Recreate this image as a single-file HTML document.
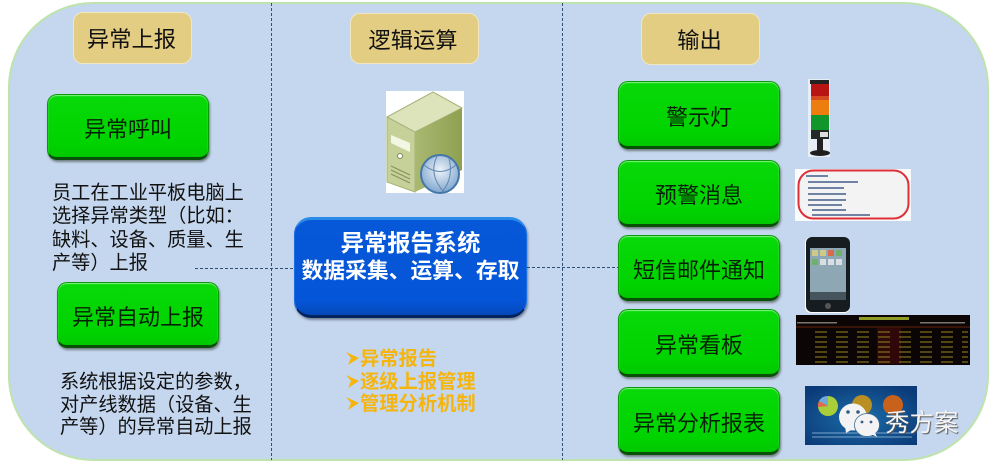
<!DOCTYPE html>
<html><head><meta charset="utf-8">
<style>
html,body{margin:0;padding:0;background:#fff}
#c{position:relative;width:989px;height:465px;overflow:hidden;background:#fff;font-family:"Liberation Sans","Noto Sans CJK SC","WenQuanYi Zen Hei",sans-serif}
#c div{position:absolute;box-sizing:border-box}
.bg{left:8px;top:2px;width:981px;height:459px;background:#c5d7ef;border:2px solid #bfe3ad;border-radius:85px}
.h{background:#e3cd83;border:1px solid #f1e6c0;border-radius:10px;text-align:center;font-size:22.3px;color:#111;display:flex;align-items:center;justify-content:center}
.g{background:linear-gradient(#08d808,#00d400 75%,#00c800);border-radius:10px;border:1px solid #0a9a0a;border-bottom:3px solid #085008;box-shadow:1px 2px 2px rgba(60,70,60,.6),inset 0 1px 1px rgba(190,255,190,.7);color:#062206;font-size:22px;display:flex;align-items:center;justify-content:center;white-space:nowrap;padding-top:3px}
.t{font-size:19.2px;line-height:23.2px;color:#111;white-space:nowrap}
.o{color:#f5b50e;font-weight:bold;font-size:19.3px;line-height:22.5px;white-space:nowrap;left:360px}
svg{position:absolute;left:0;top:0}
</style></head><body><div id="c">
<div class="bg"></div>
<svg width="989" height="465">
<defs>
<radialGradient id="rg" cx="50%" cy="55%" r="65%"><stop offset="0" stop-color="#1b6da8"/><stop offset="1" stop-color="#0b3a78"/></radialGradient>
<linearGradient id="sd" x1="0" y1="0" x2="1" y2="0"><stop offset="0" stop-color="#aab872"/><stop offset="1" stop-color="#8fa050"/></linearGradient>
<radialGradient id="gl" cx="50%" cy="40%" r="60%"><stop offset="0" stop-color="#eef3f8"/><stop offset="1" stop-color="#7fa6cf"/></radialGradient>
</defs>
<g stroke="#2f4f7a" stroke-width="1" stroke-dasharray="3 2" fill="none">
<line x1="271.5" y1="3" x2="271.5" y2="460"/>
<line x1="562.5" y1="3" x2="562.5" y2="460"/>
<line x1="195" y1="268.5" x2="295" y2="268.5"/>
<line x1="527" y1="267.5" x2="618" y2="267.5"/>
</g>
<!-- server -->
<rect x="386" y="91" width="78" height="102" fill="#fff"/>
<polygon points="387,117 433,92 462,108 415,132" fill="#dde4bc" stroke="#a8b47a"/>
<polygon points="387,117 415,132 415,192 387,182" fill="#c6d19a" stroke="#a8b47a"/>
<polygon points="415,132 462,108 462,170 415,192" fill="url(#sd)"/>
<polygon points="391,135 410,143 410,152 391,143" fill="#f4f6e4"/>
<circle cx="400" cy="156" r="2.5" fill="#fff" stroke="#7d8a55"/>
<g stroke="#83905a"><line x1="391" y1="166" x2="410" y2="175"/><line x1="391" y1="170" x2="410" y2="179"/><line x1="391" y1="174" x2="410" y2="183"/></g>
<circle cx="440" cy="174" r="19" fill="url(#gl)" stroke="#4477a8" stroke-width="2"/>
<path d="M424,165 Q440,178 456,165 M437,156 Q428,175 444,192 M449,158 Q454,178 442,192" stroke="#5f86ad" fill="none"/>
<!-- tower light -->
<rect x="808" y="79" width="22" height="78" fill="#e8eef6"/>
<rect x="810" y="80" width="19" height="4" fill="#222"/>
<rect x="811" y="84" width="18" height="16" fill="#b91414"/>
<rect x="811" y="96" width="18" height="4" fill="#d54a20"/>
<rect x="811" y="100" width="18" height="15" fill="#ee7d10"/>
<rect x="811" y="115" width="18" height="15" fill="#12952a"/>
<rect x="811" y="130" width="18" height="9" fill="#222a28"/>
<rect x="820" y="132" width="8" height="5" fill="#ddd"/>
<rect x="817" y="139" width="6" height="12" fill="#222"/>
<ellipse cx="820" cy="153" rx="10" ry="3" fill="#1e1e1e"/>
<!-- message card -->
<rect x="795" y="169" width="116" height="52" fill="#fbfbfb"/>
<rect x="798.5" y="170.5" width="110" height="48" rx="15" fill="#f3f3f3" stroke="#dd3038" stroke-width="2"/>
<g fill="#5a6f96" opacity=".85"><rect x="806" y="175" width="22" height="2"/><rect x="808" y="181" width="50" height="2"/><rect x="808" y="187" width="36" height="2"/><rect x="808" y="193" width="38" height="2"/><rect x="808" y="199" width="38" height="2"/><rect x="808" y="204" width="34" height="2"/><rect x="812" y="209" width="34" height="2"/><rect x="812" y="214" width="58" height="2"/></g>
<!-- phone -->
<rect x="805" y="237" width="45" height="76" rx="6" fill="#fff"/>
<rect x="806" y="237" width="44" height="75" rx="6" fill="#171c20"/>
<rect x="810" y="248" width="36" height="52" fill="#8ea7b4"/>
<g fill="#cfc98a"><rect x="812" y="250" width="6" height="6"/><rect x="820" y="250" width="6" height="6"/></g>
<g fill="#d86a50"><rect x="828" y="250" width="6" height="6"/></g>
<g fill="#6fb06a"><rect x="836" y="250" width="6" height="6"/><rect x="812" y="259" width="6" height="6"/></g>
<g fill="#d8dfe4"><rect x="820" y="259" width="6" height="6"/><rect x="828" y="259" width="6" height="6"/><rect x="836" y="259" width="6" height="6"/></g>
<rect x="810" y="292" width="36" height="8" fill="#46545e"/>
<circle cx="828" cy="306" r="3" fill="#555"/>
<!-- board -->
<rect x="796" y="315" width="174" height="50" fill="#0c0505"/>
<rect x="877" y="326" width="24" height="38" fill="#300808"/>
<rect x="796" y="326" width="174" height="2" fill="#3a1408"/>
<g fill="#8f9a24"><rect x="859" y="317" width="50" height="3"/></g>
<g fill="#c0c0b0" opacity=".6"><rect x="797" y="322" width="40" height="1.5"/><rect x="920" y="322" width="45" height="1.5"/></g>
<g stroke="#7d6f1c" stroke-width="1.3" stroke-dasharray="12 9"><line x1="815" y1="332" x2="968" y2="332"/><line x1="815" y1="337" x2="968" y2="337"/><line x1="815" y1="342" x2="968" y2="342"/><line x1="815" y1="347" x2="968" y2="347"/><line x1="815" y1="352" x2="968" y2="352"/><line x1="815" y1="357" x2="968" y2="357"/><line x1="815" y1="362" x2="968" y2="362"/></g>
<!-- report -->
<rect x="805" y="386" width="112" height="59" fill="url(#rg)"/>
<circle cx="828" cy="406" r="10" fill="#a8cf3a"/>
<path d="M828,406 L819,401 A10,10 0 0 1 828,396 Z" fill="#6fa8dc"/>
<path d="M828,406 L818,407 A10,10 0 0 1 819,401 Z" fill="#e06a4a"/>
<circle cx="862" cy="405" r="10" fill="#b98f24"/>
<circle cx="893" cy="405" r="10" fill="#c8611c"/>
<g stroke="#9fc4de" stroke-width=".7"><line x1="812" y1="437" x2="912" y2="437"/><line x1="812" y1="433" x2="912" y2="433"/></g>
<!-- wechat -->
<ellipse cx="853" cy="417" rx="14" ry="13.5" fill="#f3f3f3"/>
<polygon points="845,426 846,433 853,429" fill="#f3f3f3"/>
<circle cx="848" cy="412" r="1.8" fill="#365b86"/><circle cx="858" cy="412" r="1.8" fill="#365b86"/>
<ellipse cx="867" cy="425" rx="12.5" ry="11.5" fill="#f3f3f3" stroke="#3a6a9a" stroke-width=".8"/>
<polygon points="871,434 877,437 874,430" fill="#f3f3f3"/>
<circle cx="862" cy="422" r="1.4" fill="#365b86"/><circle cx="871" cy="422" r="1.4" fill="#365b86"/>
<!-- orange bullets -->
<g fill="#f5b50e">
<polygon points="346,352 359,358 348,365 351,358"/>
<polygon points="346,375 359,381 348,388 351,381"/>
<polygon points="346,397 359,403 348,410 351,403"/>
</g>
</svg>
<div style="left:885px;top:409px;font-size:24.5px;line-height:30px;color:#f5f5f5;text-shadow:1px 1px 1px #555;white-space:nowrap">秀方案</div>

<div class="h" style="left:73px;top:12px;width:119px;height:52px;padding-right:2px">异常上报</div>
<div class="h" style="left:350px;top:13px;width:129px;height:51px;padding-right:3px">逻辑运算</div>
<div class="h" style="left:641px;top:13px;width:119px;height:52px;padding-right:2px">输出</div>

<div class="g" style="left:47px;top:94px;width:162px;height:66px">异常呼叫</div>
<div class="t" style="left:52px;top:182px;line-height:23.4px">员工在工业平板电脑上<br>选择异常类型（比如：<br>缺料、设备、质量、生<br>产等）上报</div>
<div class="g" style="left:57px;top:282px;width:162px;height:66px">异常自动上报</div>
<div class="t" style="left:60px;top:372px;line-height:22.6px">系统根据设定的参数，<br>对产线数据（设备、生<br>产等）的异常自动上报</div>

<div style="left:294px;top:217px;width:233px;height:101px;border-radius:17px;background:linear-gradient(#0658d8,#0555d8 85%,#0448b8);border:1px solid #1c6fe0;border-top:3px solid #2a8be8;border-bottom:3px solid #04245c;box-shadow:1px 2px 2px rgba(40,50,70,.5);color:#fff;font-weight:bold;font-size:21.8px;line-height:27px;text-align:center;padding-top:10px;white-space:nowrap"><span style="font-size:23.3px">异常报告系统</span><br>数据采集、运算、存取</div>

<div class="o" style="top:349px">异常报告<br>逐级上报管理<br>管理分析机制</div>

<div class="g" style="left:618px;top:81px;width:162px;height:68px">警示灯</div>
<div class="g" style="left:618px;top:160px;width:162px;height:67px">预警消息</div>
<div class="g" style="left:618px;top:235px;width:162px;height:66px">短信邮件通知</div>
<div class="g" style="left:618px;top:309px;width:162px;height:68px">异常看板</div>
<div class="g" style="left:618px;top:387px;width:162px;height:68px">异常分析报表</div>
</div></body></html>
